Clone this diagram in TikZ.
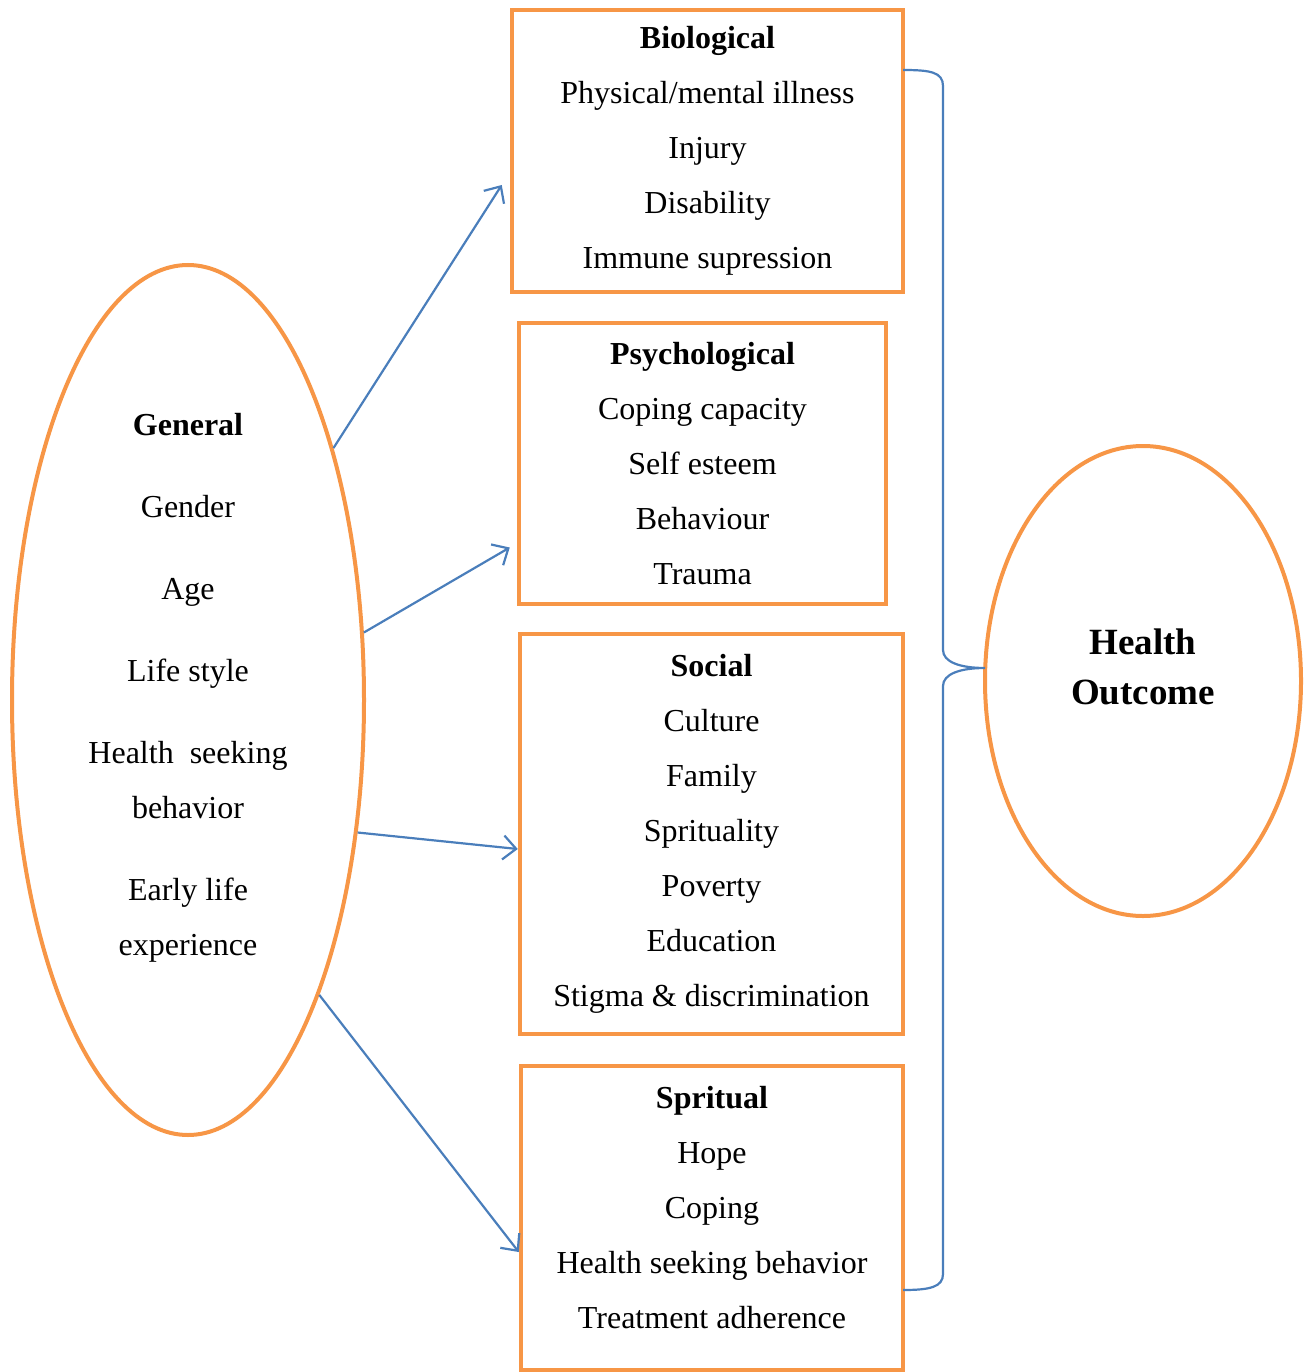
\documentclass[tikz,border=0pt]{standalone}
\usepackage{fontspec}
\setmainfont{Liberation Serif}
\usetikzlibrary{shapes.geometric,arrows.meta}
\definecolor{boxorange}{HTML}{F79646}
\definecolor{linkblue}{HTML}{4A7EBB}

\begin{document}
\begin{tikzpicture}[x=1pt,y=-1pt,
    every node/.style={align=center,font=\fontsize{32}{55}\selectfont},
    factor/.style={rectangle,draw=boxorange,line width=4.5pt},
    blob/.style={ellipse,draw=boxorange,line width=4pt,inner sep=0pt},
    >={Straight Barb[length=13pt,width=24pt]}]
    \useasboundingbox (0,0) rectangle (1308,1372);

    \node[factor,minimum width=391pt,minimum height=282pt] (bio) at (707.5,151)
      {\textbf{Biological}\\Physical/mental illness\\Injury\\Disability\\Immune supression};
    \node[factor,minimum width=367pt,minimum height=281pt] (psych) at (702.5,463.5)
      {\textbf{Psychological}\\Coping capacity\\Self esteem\\Behaviour\\Trauma};
    \node[factor,minimum width=383pt,minimum height=400pt] (social) at (711.5,834)
      {\textbf{Social}\\Culture\\Family\\Sprituality\\Poverty\\Education\\Stigma \& discrimination};
    \node[factor,minimum width=382pt,minimum height=304pt] (spirit) at (712,1218)
      {\textbf{Spritual}\\Hope\\Coping\\Health seeking behavior\\Treatment adherence\\[-34pt]\mbox{}};

    \node[blob,minimum width=352pt,minimum height=870pt] (general) at (188,700) {};
    \node (generalText) at (188,688)
      {\textbf{General}\\[27pt]Gender\\[27pt]Age\\[27pt]Life style\\[27pt]Health\ \ seeking\\behavior\\[27pt]Early life\\experience};
    \node[blob,minimum width=316pt,minimum height=470pt] (outcome) at (1143,681) {};
    \node[font=\fontsize{37}{50}\selectfont\bfseries] (outcomeText) at (1143,667) {Health\\Outcome};

    \path[->] (general.60) edge[draw=linkblue,line width=2.2pt] ([xshift=-8pt,yshift=-34pt]bio.west);
    \path[->] (general.21) edge[draw=linkblue,line width=2.2pt] ([xshift=-7pt,yshift=-84pt]psych.west);
    \path[->] (general.-38) edge[draw=linkblue,line width=2.2pt] ([yshift=-15pt]social.west);
    \path[->] (general.-66) edge[draw=linkblue,line width=2.2pt] ([yshift=-34pt]spirit.west);

    % brace round the four factors
    \coordinate (braceTop) at (903,70);
    \coordinate (braceBot) at (903,1290);
    \coordinate (braceTip) at (985,668);
    \draw[linkblue,line width=2.2pt] (braceTop) .. controls (930,70) and (943,72) .. (943,86)
      -- (943,650) .. controls (943,662) and (960,668) .. (braceTip)
      .. controls (960,668) and (943,674) .. (943,686)
      -- (943,1274) .. controls (943,1287) and (930,1290) .. (braceBot);
\end{tikzpicture}
\end{document}
